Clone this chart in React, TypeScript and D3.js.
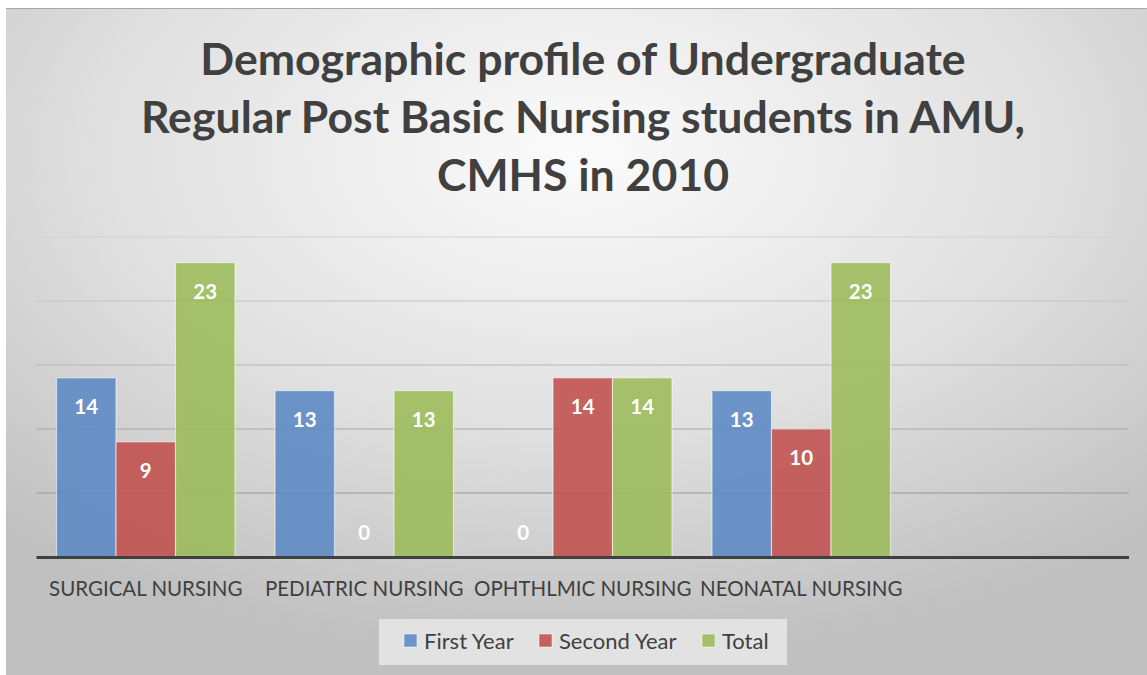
import React from 'react';
import * as d3 from 'd3';

const categories = ['SURGICAL NURSING', 'PEDIATRIC NURSING', 'OPHTHLMIC NURSING', 'NEONATAL NURSING'];
const seriesNames = ['First Year', 'Second Year', 'Total'];
const firstYear = [14, 13, 0, 13];
const secondYear = [9, 0, 14, 10];
const total = [23, 13, 14, 23];
const yTicks = [0, 5, 10, 15, 20, 25];
const titleLines = [
  'Demographic profile of Undergraduate',
  'Regular Post Basic Nursing students in AMU,',
  'CMHS in 2010',
];

const colors = ['#5b89c4', '#c0504d', '#9bbb59'];
const font = 'Lato, "Open Sans", sans-serif';

const App = () => {
  const W = 1147;
  const H = 675;
  const plot = { left: 36.5, right: 1129, top: 237, bottom: 557 };

  // excel kept an empty fifth category slot on the right
  const slots = [...categories, ''];
  const x = d3.scaleBand().domain(slots).range([plot.left, plot.right]);
  const inner = d3.scaleBand()
    .domain(seriesNames)
    .range([20, x.bandwidth() - 20]);
  const y = d3.scaleLinear().domain([0, 25]).range([plot.bottom, plot.top]);

  const series = [firstYear, secondYear, total];
  const gridColor = d3.scaleLinear<string>().domain([0, 25]).range(['#8a8a8a', '#d2d2d2']);

  const legendItems = [
    { name: seriesNames[0], x: 404 },
    { name: seriesNames[1], x: 539 },
    { name: seriesNames[2], x: 702 },
  ];

  return (
    <div style={{ position: 'absolute', left: 0, top: 0 }}>
      <svg width={W} height={H} style={{ display: 'block' }}>
        <defs>
          <radialGradient id="bg" cx="0.5" cy="0.22" r="0.75" fx="0.5" fy="0.22">
            <stop offset="0%" stopColor="#fbfbfb" />
            <stop offset="55%" stopColor="#e0e0e0" />
            <stop offset="100%" stopColor="#c0c0c0" />
          </radialGradient>
        </defs>
        <rect x={0} y={0} width={W} height={H} fill="#ffffff" />
        <rect x={6} y={8} width={W - 6} height={H - 8} fill="url(#bg)" />
        <line x1={6} x2={W} y1={8.5} y2={8.5} stroke="#a8a8a8" strokeWidth={1} />

        {titleLines.map((t, i) => (
          <text
            key={i}
            x={583}
            y={75 + i * 58}
            textAnchor="middle"
            fontFamily={font}
            fontWeight={700}
            fontSize={44.6}
            fill="#404040"
          >
            {t}
          </text>
        ))}

        {yTicks.filter((t) => t > 0).map((t) => (
          <line
            key={t}
            x1={plot.left}
            x2={plot.right}
            y1={y(t)}
            y2={y(t)}
            stroke={gridColor(t)}
            strokeWidth={1.2}
          />
        ))}

        {categories.map((c, ci) => (
          <g key={c} transform={`translate(${x(c)},0)`}>
            {series.map((s, si) => {
              const v = s[ci];
              const bx = inner(seriesNames[si]) as number;
              const bw = inner.bandwidth();
              const top = y(v);
              const ly = v > 0 ? top + 36 : y(0) - 17;
              return (
                <g key={si}>
                  {v > 0 && (
                    <rect
                      x={bx}
                      y={top}
                      width={bw}
                      height={y(0) - top}
                      fill={colors[si]}
                      fillOpacity={0.88}
                      stroke="#ffffff"
                      strokeOpacity={0.55}
                      strokeWidth={1.2}
                    />
                  )}
                  <text
                    x={bx + bw / 2}
                    y={ly}
                    textAnchor="middle"
                    fontFamily={font}
                    fontWeight={700}
                    fontSize={20.5}
                    fill="#ffffff"
                  >
                    {v}
                  </text>
                </g>
              );
            })}
            <text
              x={x.bandwidth() / 2}
              y={596}
              textAnchor="middle"
              fontFamily={font}
              fontSize={20.5}
              fill="#404040"
            >
              {c}
            </text>
          </g>
        ))}

        <line x1={plot.left} x2={plot.right} y1={y(0) + 0.5} y2={y(0) + 0.5} stroke="#404040" strokeWidth={3} />

        <rect x={379} y={619} width={408} height={46} fill="#e2e2e2" />
        {legendItems.map((d, i) => (
          <g key={d.name}>
            <rect x={d.x} y={634} width={13} height={13} fill={colors[i]} fillOpacity={0.88} stroke="#ffffff" strokeOpacity={0.5} />
            <text x={d.x + 20} y={649} fontFamily={font} fontSize={22} fill="#404040">
              {d.name}
            </text>
          </g>
        ))}
      </svg>
    </div>
  );
};

export default App;
